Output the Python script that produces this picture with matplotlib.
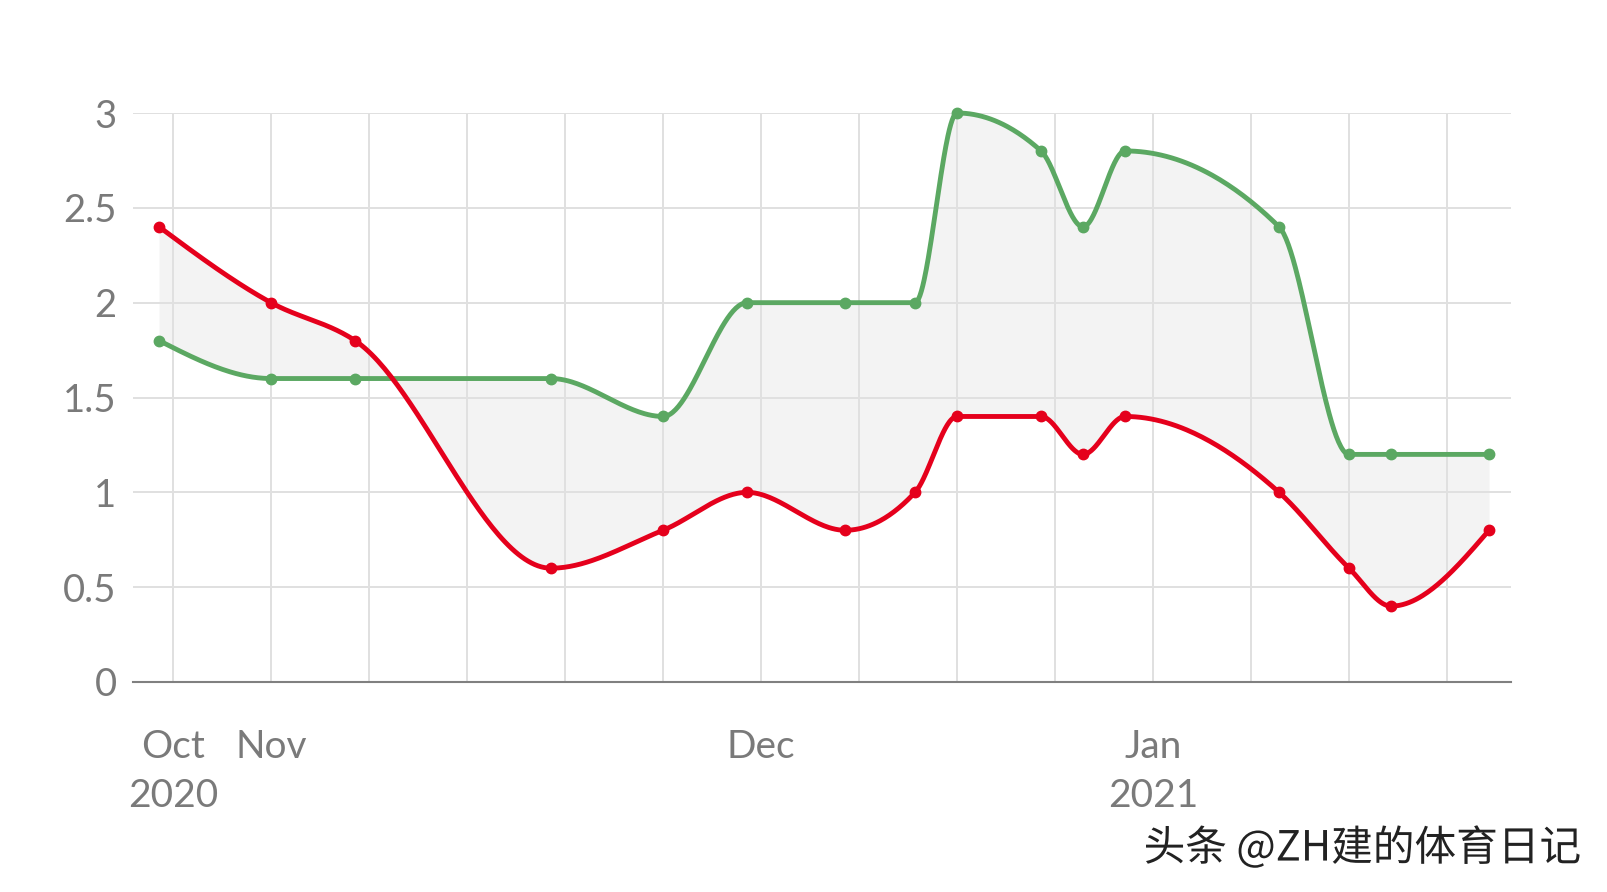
import datetime as dt
import numpy as np
import matplotlib
matplotlib.use("Agg")
import matplotlib.pyplot as plt
import matplotlib.dates as mdates
import matplotlib.patheffects as pe

# match dates and the two series
dates = ["2020-10-25", "2020-11-02", "2020-11-08", "2020-11-22", "2020-11-30",
         "2020-12-06", "2020-12-13", "2020-12-18", "2020-12-21", "2020-12-27",
         "2020-12-30", "2021-01-02", "2021-01-13", "2021-01-18", "2021-01-21",
         "2021-01-28"]
red = [2.4, 2.0, 1.8, 0.6, 0.8, 1.0, 0.8, 1.0, 1.4, 1.4, 1.2, 1.4, 1.0, 0.6, 0.4, 0.8]
green = [1.8, 1.6, 1.6, 1.6, 1.4, 2.0, 2.0, 2.0, 3.0, 2.8, 2.4, 2.8, 2.4, 1.2, 1.2, 1.2]

tick_dates = ["2020-10-26", "2020-11-02", "2020-11-09", "2020-11-16", "2020-11-23",
              "2020-11-30", "2020-12-07", "2020-12-14", "2020-12-21", "2020-12-28",
              "2021-01-04", "2021-01-11", "2021-01-18", "2021-01-25"]
tick_labels = ["Oct\n2020", "Nov", "", "", "", "", "Dec", "", "", "",
               "Jan\n2021", "", "", ""]
y_ticks = [0, 0.5, 1, 1.5, 2, 2.5, 3]
y_labels = ["0", "0.5", "1", "1.5", "2", "2.5", "3"]

RED = "#e5001c"
GREEN = "#5ba862"
GRAY = "#7a7a7a"


def to_num(ds):
    return mdates.date2num([dt.datetime.strptime(d, "%Y-%m-%d") for d in ds])


def monotone(x, y, n=60):
    # same as d3.curveMonotoneX
    x = np.asarray(x, float)
    y = np.asarray(y, float)
    h = np.diff(x)
    s = np.diff(y) / h
    m = np.zeros_like(y)
    for i in range(1, len(y) - 1):
        p = (s[i - 1] * h[i] + s[i] * h[i - 1]) / (h[i - 1] + h[i])
        m[i] = (np.sign(s[i - 1]) + np.sign(s[i])) * min(abs(s[i - 1]), abs(s[i]), 0.5 * abs(p))
    m[0] = (3 * s[0] - m[1]) / 2
    m[-1] = (3 * s[-1] - m[-2]) / 2
    xs, ys = [], []
    for i in range(len(h)):
        t = np.linspace(0, 1, n, endpoint=(i == len(h) - 1))
        h00 = 2 * t**3 - 3 * t**2 + 1
        h10 = t**3 - 2 * t**2 + t
        h01 = -2 * t**3 + 3 * t**2
        h11 = t**3 - t**2
        xs.append(x[i] + t * h[i])
        ys.append(h00 * y[i] + h10 * h[i] * m[i] + h01 * y[i + 1] + h11 * h[i] * m[i + 1])
    return np.concatenate(xs), np.concatenate(ys)


plt.rcParams['font.family'] = ['Lato', 'DejaVu Sans']

x = to_num(dates)
xr, yr = monotone(x, red)
xg, yg = monotone(x, green)

W, H = 1608, 892
fig = plt.figure(figsize=(W / 100, H / 100), dpi=100)
ax = fig.add_axes([133.3 / W, (H - 682) / H, (1510.6 - 133.3) / W, (682 - 113) / H])

ax.fill_between(xr, yr, yg, color="#f3f3f3", lw=0, zorder=0.2)
ax.plot(xg, yg, color=GREEN, lw=3.5, zorder=3, clip_on=False, solid_capstyle="round")
ax.plot(xr, yr, color=RED, lw=3.5, zorder=4, clip_on=False, solid_capstyle="round")
ax.plot(x, green, "o", color=GREEN, ms=7.5, zorder=3, clip_on=False)
ax.plot(x, red, "o", color=RED, ms=7.5, zorder=4, clip_on=False)

t0 = to_num(["2020-10-26"])[0]
ax.set_xlim(t0 - 2.84, t0 + 95.54)
ax.set_ylim(0, 3)

ax.set_xticks(to_num(tick_dates))
ax.set_xticklabels(tick_labels, linespacing=1.43)
ax.set_yticks(y_ticks)
ax.set_yticklabels(y_labels)
ax.tick_params(axis="x", length=0, pad=34, labelsize=28, colors=GRAY)
ax.tick_params(axis="y", length=0, pad=12, labelsize=27.5, colors=GRAY)

ax.set_axisbelow(True)
ax.grid(True, color="#e0e0e0", lw=1.4)
for side in ["top", "right", "left"]:
    ax.spines[side].set_visible(False)
ax.spines["bottom"].set_color("#808080")
ax.spines["bottom"].set_linewidth(1.5)
ax.spines["bottom"].set_zorder(5)

fig.text(1581 / W, 1 - 848 / H, "头条 @ZH建的体育日记", ha="right", va="center",
         fontsize=30, color="#222222", family=["Noto Sans CJK SC", "DejaVu Sans"],
         path_effects=[pe.withStroke(linewidth=3, foreground="white")])

fig.savefig("out.png", dpi=100)
